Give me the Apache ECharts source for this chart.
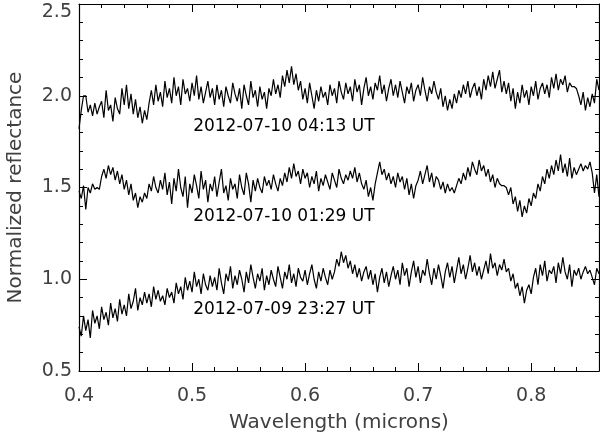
<!DOCTYPE html>
<html>
<head>
<meta charset="utf-8">
<script src="https://cdn.jsdelivr.net/npm/echarts@6/dist/echarts.min.js"></script>
<style>html,body{margin:0;padding:0;background:#fff}#c{width:600px;height:435px}</style>
</head>
<body>
<div id="c"></div>
<script>
// Wavelength sampling (microns)
var wlStart = 0.400, wlStep = 0.002;

// 2012-07-10 04:13 UT
var spec0413 = [
1.82,1.92,2.00,2.00,1.91,1.95,1.89,1.96,1.90,1.94,
1.97,1.88,2.03,1.92,1.95,1.86,1.99,1.93,1.90,2.04,
1.95,2.06,1.93,2.01,1.90,1.98,1.88,1.94,1.85,1.92,
1.87,1.96,2.03,1.95,2.06,1.97,2.02,1.94,2.08,1.99,
2.04,1.96,2.10,2.00,2.05,1.95,2.09,2.01,2.04,1.97,
2.07,2.00,2.11,1.98,2.05,1.96,2.02,2.08,1.99,2.04,
1.95,2.06,1.98,2.03,1.94,2.05,2.00,1.96,2.07,2.01,
1.97,2.04,1.93,2.06,2.00,1.95,2.08,1.99,2.03,1.94,
2.05,1.98,2.02,1.93,2.04,2.00,2.09,2.01,2.06,1.99,
2.11,2.05,2.14,2.07,2.16,2.06,2.12,2.03,2.08,1.98,
2.04,1.96,2.07,2.00,1.93,2.03,1.97,2.05,1.99,2.02,
1.95,2.06,2.00,2.04,1.96,2.08,2.02,1.98,2.07,2.01,
2.05,1.97,2.09,2.02,2.06,1.95,2.04,2.10,2.00,2.05,
1.98,2.07,2.03,2.11,2.01,2.06,1.97,2.04,2.09,2.00,
2.06,1.99,2.08,2.02,1.96,2.05,2.01,2.07,1.97,2.03,
2.06,2.00,2.10,2.03,1.97,2.05,2.01,2.08,2.02,1.98,
2.04,1.94,2.00,1.92,1.98,1.93,2.01,1.96,2.03,1.99,
2.06,2.01,2.08,1.99,2.04,2.07,2.00,2.05,1.98,2.09,
2.03,2.11,2.05,2.13,2.04,2.09,2.14,2.02,2.08,2.01,
2.07,1.97,2.04,1.93,2.02,1.96,2.06,1.99,2.03,1.95,
2.05,2.00,2.08,1.98,2.04,2.07,2.01,2.06,1.99,2.10,
2.04,2.12,2.03,2.09,2.06,2.11,2.02,2.07,2.05,2.05,
2.04,2.00,1.95,2.02,1.92,1.99,1.94,2.01,1.96,2.09,
2.03
];

// 2012-07-10 01:29 UT
var spec0129 = [
1.48,1.44,1.51,1.38,1.50,1.47,1.52,1.49,1.50,1.49,
1.56,1.60,1.55,1.62,1.57,1.61,1.54,1.59,1.52,1.57,
1.49,1.54,1.46,1.52,1.43,1.47,1.39,1.45,1.42,1.47,
1.44,1.52,1.48,1.56,1.50,1.47,1.54,1.49,1.58,1.46,
1.53,1.41,1.55,1.48,1.60,1.50,1.45,1.56,1.39,1.52,
1.47,1.57,1.51,1.44,1.59,1.49,1.54,1.42,1.52,1.48,
1.56,1.45,1.53,1.60,1.47,1.51,1.43,1.55,1.49,1.52,
1.44,1.57,1.50,1.46,1.58,1.52,1.42,1.54,1.48,1.55,
1.50,1.47,1.56,1.51,1.54,1.49,1.57,1.52,1.48,1.55,
1.51,1.58,1.53,1.61,1.55,1.63,1.56,1.59,1.52,1.60,
1.55,1.58,1.50,1.56,1.52,1.59,1.48,1.55,1.51,1.57,
1.53,1.49,1.58,1.54,1.50,1.60,1.55,1.52,1.57,1.54,
1.59,1.55,1.61,1.53,1.58,1.52,1.49,1.54,1.45,1.50,
1.43,1.52,1.58,1.64,1.57,1.60,1.54,1.58,1.52,1.56,
1.50,1.58,1.53,1.56,1.49,1.55,1.46,1.52,1.44,1.51,
1.54,1.59,1.52,1.57,1.62,1.53,1.58,1.50,1.56,1.54,
1.49,1.53,1.47,1.52,1.48,1.50,1.47,1.51,1.55,1.52,
1.58,1.54,1.61,1.56,1.64,1.60,1.57,1.65,1.59,1.62,
1.56,1.60,1.53,1.57,1.50,1.55,1.52,1.51,1.51,1.50,
1.46,1.50,1.41,1.45,1.37,1.43,1.34,1.40,1.36,1.44,
1.40,1.47,1.44,1.52,1.48,1.56,1.52,1.60,1.55,1.62,
1.57,1.65,1.59,1.68,1.58,1.63,1.56,1.66,1.55,1.61,
1.57,1.60,1.63,1.59,1.62,1.60,1.64,1.58,1.47,1.57,
1.45
];

// 2012-07-09 23:27 UT
var spec2327 = [
0.74,0.69,0.80,0.72,0.78,0.68,0.83,0.76,0.80,0.73,
0.85,0.78,0.82,0.75,0.87,0.79,0.84,0.77,0.89,0.81,
0.86,0.80,0.92,0.84,0.88,0.95,0.83,0.90,0.86,0.93,
0.87,0.92,0.85,0.96,0.89,0.94,0.88,0.91,0.86,0.95,
0.90,0.93,0.87,0.98,0.92,0.96,0.89,1.01,0.94,0.99,
0.93,1.04,0.96,1.00,0.92,1.03,0.97,0.94,1.02,0.96,
1.01,0.94,1.06,0.98,0.92,1.03,0.99,1.07,0.95,1.02,
0.97,1.05,1.00,0.93,1.04,0.98,1.08,1.01,0.95,1.03,
0.99,1.06,0.94,1.02,0.97,1.05,1.00,0.96,1.07,1.01,
0.95,1.04,1.00,1.08,0.98,1.03,0.96,1.06,1.01,0.99,
1.05,0.97,1.03,1.08,1.00,0.95,1.04,0.99,1.06,1.01,
0.97,1.05,1.00,1.04,1.11,1.07,1.15,1.09,1.13,1.06,
1.10,1.03,1.08,1.01,1.06,0.99,1.04,1.07,1.00,1.05,
0.97,1.03,0.93,1.01,1.06,0.98,1.04,0.96,1.02,1.07,
1.00,1.05,0.97,1.09,1.02,1.06,0.96,1.04,1.10,1.01,
1.07,0.98,1.05,1.02,1.11,1.03,0.97,1.06,1.00,1.08,
1.02,0.95,1.04,1.09,1.01,1.07,0.98,1.05,1.12,1.03,
1.08,1.00,1.06,1.13,1.04,1.09,1.02,1.07,1.00,1.05,
1.10,1.03,1.14,1.06,1.09,1.02,1.08,1.05,1.11,1.04,
1.06,0.99,1.03,0.95,0.98,0.91,0.96,0.87,0.94,0.97,
0.92,1.01,1.06,0.97,1.08,1.02,1.10,0.99,1.05,1.03,
1.07,0.98,1.09,1.03,1.12,1.04,1.00,1.08,0.96,1.05,
1.02,1.06,1.00,1.04,1.07,1.03,1.05,1.01,0.97,1.06,
1.03
];

// Annotations
var labelTexts = ['2012-07-10 04:13 UT', '2012-07-10 01:29 UT', '2012-07-09 23:27 UT'];
var labelX = [0.501, 0.501, 0.501];
var labelY = [1.83, 1.34, 0.833];

var xTicks = [0.4, 0.5, 0.6, 0.7, 0.8];
var yTicks = [0.5, 1.0, 1.5, 2.0, 2.5];

function pairs(arr) {
  return arr.map(function (v, i) {
    return [Math.round((wlStart + i * wlStep) * 10000) / 10000, v];
  });
}

var axisFont = 'DejaVu Sans';
var textCol = '#404040';

function xAx(pos, showLabel) {
  return {
    type: 'value', position: pos, min: 0.4, max: 0.86, interval: 0.1,
    axisLine: { show: true, onZero: false, lineStyle: { color: '#000', width: 1.2 } },
    axisTick: { show: true, inside: true, length: 8, lineStyle: { color: '#000', width: 1 } },
    minorTick: { show: true, splitNumber: 5, length: 4, lineStyle: { color: '#000', width: 1 } },
    splitLine: { show: false },
    axisLabel: {
      show: showLabel, margin: 16, fontSize: 19, fontFamily: axisFont, color: textCol,
      showMaxLabel: false,
      formatter: function (v) { return v.toFixed(1); }
    },
    name: showLabel ? 'Wavelength (microns)' : '',
    nameLocation: 'middle', nameGap: 42,
    nameTextStyle: { fontSize: 20, fontFamily: axisFont, color: textCol }
  };
}
function yAx(pos, showLabel) {
  return {
    type: 'value', position: pos, min: 0.5, max: 2.5, interval: 0.5,
    axisLine: { show: true, onZero: false, lineStyle: { color: '#000', width: 1.2 } },
    axisTick: { show: true, inside: true, length: 8, lineStyle: { color: '#000', width: 1 } },
    minorTick: { show: true, splitNumber: 5, length: 4, lineStyle: { color: '#000', width: 1 } },
    splitLine: { show: false },
    axisLabel: {
      show: showLabel, margin: 7, fontSize: 19, fontFamily: axisFont, color: textCol,
      formatter: function (v) {
        var s = v.toFixed(1);
        return v >= 2.5 ? '{t|' + s + '}' : s;
      },
      rich: { t: { fontSize: 19, fontFamily: axisFont, color: textCol, padding: [16, 0, 0, 0] } }
    },
    name: showLabel ? 'Normalized reflectance' : '',
    nameLocation: 'middle', nameGap: 53, nameRotate: 90,
    nameTextStyle: { fontSize: 20, fontFamily: axisFont, color: textCol }
  };
}

var chart = echarts.init(document.getElementById('c'), null, { renderer: 'canvas' });
var lineSeries = [spec0413, spec0129, spec2327].map(function (arr) {
  return {
    type: 'line', data: pairs(arr), xAxisIndex: 0, yAxisIndex: 0,
    showSymbol: false, symbol: 'none', animation: false,
    lineStyle: { color: '#000', width: 1.2 }
  };
});
chart.setOption({
  animation: false,
  grid: { left: 79, right: 1, top: 4, bottom: 64, containLabel: false, outerBoundsMode: 'none' },
  xAxis: [xAx('bottom', true), xAx('top', false)],
  yAxis: [yAx('left', true), yAx('right', false)],
  series: lineSeries
});

var g = labelTexts.map(function (t, i) {
  var p = chart.convertToPixel({ xAxisIndex: 0, yAxisIndex: 0 }, [labelX[i], labelY[i]]);
  return {
    type: 'text', x: p[0], y: p[1],
    style: { text: t, fill: '#000', font: '17px "DejaVu Sans"', textAlign: 'left', textVerticalAlign: 'middle', verticalAlign: 'middle' }
  };
});
chart.setOption({ graphic: g });
</script>
</body>
</html>
